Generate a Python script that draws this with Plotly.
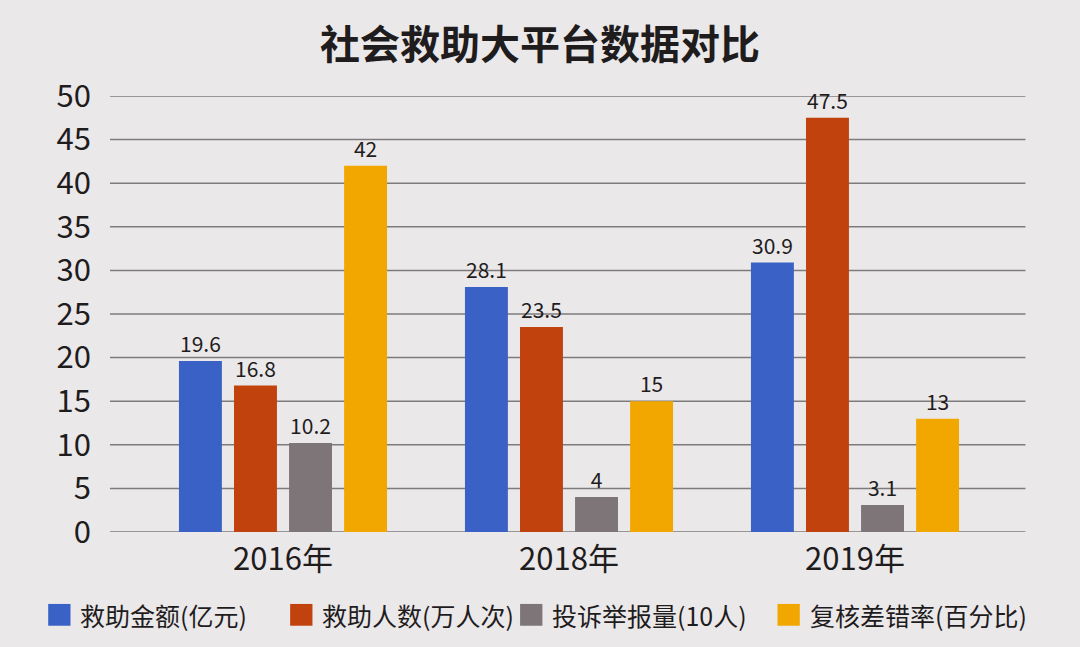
import plotly.graph_objects as go

# data
years = ["2016年", "2018年", "2019年"]
series_names = ["救助金额(亿元)", "救助人数(万人次)", "投诉举报量(10人)", "复核差错率(百分比)"]
rescue_money = [19.6, 28.1, 30.9]
rescue_people = [16.8, 23.5, 47.5]
complaints = [10.2, 4, 3.1]
error_rate = [42, 15, 13]
y_ticks = [0, 5, 10, 15, 20, 25, 30, 35, 40, 45, 50]

colors = ["#3a62c6", "#c1420d", "#7d7577", "#f2a700"]
values = [rescue_money, rescue_people, complaints, error_rate]

font_family = "Noto Sans CJK SC"
bg = "#ebe8ea"
text_col = "#1f1c1d"

fig = go.Figure()
for name, vals, col in zip(series_names, values, colors):
    fig.add_trace(go.Bar(
        x=years,
        y=vals,
        name=name,
        marker=dict(color=col, line=dict(width=0)),
        text=[f"{v:g}" for v in vals],
        textposition="outside",
        textfont=dict(size=21, color=text_col, family=font_family),
        cliponaxis=False,
        showlegend=False,
    ))

# gridlines run a bit wider than the bar area, like the original
for t in y_ticks:
    fig.add_shape(
        type="line", xref="paper", yref="y",
        x0=-0.035, x1=1.032, y0=t, y1=t,
        line=dict(color="#7f7b7d", width=1.5),
        layer="below",
    )

# legend drawn by hand so the colour squares are as big as in the photo
legend_x = [-0.107, 0.175, 0.443, 0.743]   # left edge of each square (paper)
legend_y = -0.19
sq_w, sq_h = 0.026, 0.05
for name, col, lx in zip(series_names, colors, legend_x):
    fig.add_shape(
        type="rect", xref="paper", yref="paper",
        x0=lx, x1=lx + sq_w, y0=legend_y - sq_h / 2, y1=legend_y + sq_h / 2,
        fillcolor=col, line=dict(width=0),
    )
    fig.add_annotation(
        xref="paper", yref="paper",
        x=lx + sq_w + 0.009, y=legend_y,
        xanchor="left", yanchor="middle",
        text=name, showarrow=False,
        font=dict(size=25, color=text_col, family=font_family),
    )

fig.update_layout(
    width=1080,
    height=647,
    paper_bgcolor=bg,
    plot_bgcolor=bg,
    font=dict(family=font_family, color=text_col),
    title=dict(
        text="社会救助大平台数据对比",
        x=0.5, xanchor="center",
        y=0.93, yanchor="middle",
        font=dict(size=40, color=text_col, family=font_family, weight="bold"),
    ),
    barmode="group",
    bargap=0.23,
    bargroupgap=0.22,
    margin=dict(l=140, r=82, t=96, b=115),
)

fig.update_xaxes(
    showgrid=False,
    showline=False,
    ticks="",
    tickfont=dict(size=31, color=text_col),
    ticklabelstandoff=6,
)
fig.update_yaxes(
    range=[0, 50],
    tickvals=y_ticks,
    showgrid=False,
    zeroline=False,
    showline=False,
    ticks="",
    tickfont=dict(size=31, color=text_col),
    ticklabelstandoff=48,
)

fig.write_html(
    "out.html",
    config={"displayModeBar": False},
    post_script="document.body.style.margin='0';",
)
